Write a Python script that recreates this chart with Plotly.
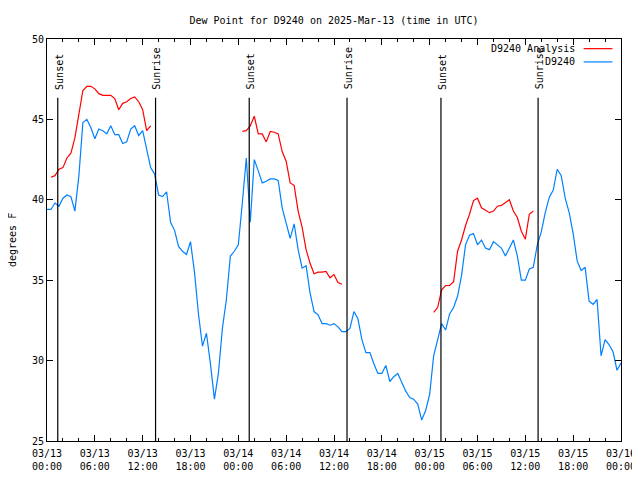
import pandas as pd
import plotly.graph_objects as go

# ---- data ----
start = "2025-03-13 00:00"
n_obs = 145  # 30-minute readings over three days
obs_dewpoint = [
    39.4, 39.4, 39.8, 39.6, 40.1, 40.3, 40.2, 39.3, 41.5, 44.8,
    45.0, 44.5, 43.8, 44.4, 44.3, 44.1, 44.6, 44.05, 44.05, 43.5,
    43.6, 44.4, 44.6, 44.0, 44.3, 43.2, 42.0, 41.6, 40.3, 40.2,
    40.5, 38.6, 38.1, 37.1, 36.8, 36.6, 37.4, 35.5, 32.9, 30.9,
    31.7, 29.8, 27.6, 29.2, 32.0, 33.8, 36.5, 36.8, 37.2, 39.8,
    42.6, 38.6, 42.5, 41.8, 41.05, 41.15, 41.3, 41.3, 41.2, 39.5,
    38.45, 37.6, 38.5, 36.9, 35.75, 35.9, 34.2, 33.05, 32.85, 32.3,
    32.3, 32.2, 32.3, 32.1, 31.8, 31.8, 32.0, 33.05, 32.6, 31.3,
    30.5, 30.5, 29.8, 29.2, 29.2, 29.7, 28.7, 29.0, 29.2, 28.6,
    28.1, 27.7, 27.6, 27.3, 26.3, 26.9, 27.9, 30.3, 31.4, 32.3,
    31.9, 32.9, 33.3, 34.0, 35.3, 37.2, 37.8, 37.9, 37.2, 37.5,
    37.0, 36.9, 37.4, 37.2, 37.0, 36.5, 37.0, 37.5, 36.5, 35.0,
    35.0, 35.7, 35.8, 37.2, 38.0, 39.2, 40.15, 40.6, 41.9, 41.5,
    40.1, 39.2, 37.9, 36.2, 35.6, 35.8, 33.7, 33.5, 33.8, 30.3,
    31.3, 31.0, 30.55, 29.4, 29.85,
]

analysis_starts = ["2025-03-13 00:30", "2025-03-14 00:30", "2025-03-15 00:30"]
analysis_day1 = [41.4, 41.5, 41.9, 42.0, 42.6, 42.9, 43.85, 45.2, 46.8, 47.05,
                 47.06, 46.9, 46.6, 46.5, 46.5, 46.5, 46.3, 45.6, 46.0, 46.1,
                 46.3, 46.4, 46.1, 45.6, 44.3, 44.6]
analysis_day2 = [44.26, 44.3, 44.6, 45.2, 44.1, 44.1, 43.6, 44.25, 44.2, 44.1,
                 43.0, 42.4, 41.05, 40.9, 39.3, 38.3, 36.9, 36.05, 35.4, 35.5,
                 35.5, 35.55, 35.15, 35.35, 34.85, 34.75]
analysis_day3 = [33.0, 33.3, 34.4, 34.67, 34.67, 34.9, 36.8, 37.5, 38.4, 39.1,
                 39.95, 40.1, 39.5, 39.35, 39.2, 39.3, 39.6, 39.65, 39.85, 40.0,
                 39.3, 38.9, 38.05, 37.55, 39.1, 39.3]

sun_labels = ["Sunset", "Sunrise", "Sunset", "Sunrise", "Sunset", "Sunrise"]
sun_times = ["2025-03-13 01:21", "2025-03-13 13:37", "2025-03-14 01:22",
             "2025-03-14 13:38", "2025-03-15 01:25", "2025-03-15 13:36"]

tick_times = pd.date_range("2025-03-13 00:00", "2025-03-16 00:00", freq="6h")
tick_labels = [t.strftime("%m/%d") + "<br>" + t.strftime("%H:%M") for t in tick_times]

# ---- build ----
obs_times = pd.date_range(start, periods=n_obs, freq="30min")

an_x, an_y = [], []
for s, seg in zip(analysis_starts, [analysis_day1, analysis_day2, analysis_day3]):
    ts = pd.date_range(s, periods=len(seg), freq="30min")
    an_x += list(ts) + [ts[-1] + pd.Timedelta(minutes=15)]
    an_y += list(seg) + [None]

FONT = "DejaVu Sans Mono"
RED = "#ff0000"
BLUE = "#0080ff"

# page has an 8px body margin, so the figure is 632x472
W, H = 632, 472

fig = go.Figure()
fig.add_trace(go.Scatter(x=an_x, y=an_y, mode="lines", name="D9240 Analysis",
                         line=dict(color=RED, width=1.2), connectgaps=False))
fig.add_trace(go.Scatter(x=obs_times, y=obs_dewpoint, mode="lines", name="D9240",
                         line=dict(color=BLUE, width=1.2)))

for lab, t in zip(sun_labels, sun_times):
    fig.add_shape(type="line", xref="x", yref="paper", x0=t, x1=t, y0=0, y1=0.854,
                  line=dict(color="black", width=1.2))
    fig.add_annotation(x=t, xref="x", y=0.869, yref="paper", text=lab,
                       textangle=-90, showarrow=False, xanchor="center",
                       yanchor="bottom", xshift=1.5,
                       font=dict(family=FONT, size=10, color="black"))

# legend drawn gnuplot-style: text on the left, line sample on the right
for i, (name, col) in enumerate([("D9240 Analysis", RED), ("D9240", BLUE)]):
    yp = 0.976 - i * 0.033
    fig.add_annotation(x=0.924, xref="paper", y=yp, yref="paper", text=name,
                       showarrow=False, xanchor="right", yanchor="middle",
                       font=dict(family=FONT, size=10, color="black"))
    fig.add_shape(type="line", xref="paper", yref="paper", x0=0.935, x1=0.985,
                  y0=yp, y1=yp, line=dict(color=col, width=1.2))

# y-axis label placed like gnuplot's
fig.add_annotation(x=0, xref="paper", y=0.5, yref="paper", text="degrees F",
                   textangle=-90, showarrow=False, xanchor="center",
                   yanchor="middle", xshift=-35,
                   font=dict(family=FONT, size=10, color="black"))

fig.update_layout(
    width=W, height=H,
    margin=dict(l=39, r=19, t=31, b=39, autoexpand=False),
    paper_bgcolor="white", plot_bgcolor="white",
    showlegend=False,
    font=dict(family=FONT, size=10, color="black"),
    title=dict(text="Dew Point for D9240 on 2025-Mar-13 (time in UTC)",
               x=0.5, xref="paper", xanchor="center",
               y=1 - 12 / H, yref="container", yanchor="middle",
               automargin=False,
               font=dict(family=FONT, size=10, color="black")),
)
fig.update_xaxes(
    range=["2025-03-13 00:00", "2025-03-16 00:00"],
    tickvals=list(tick_times), ticktext=tick_labels,
    ticks="inside", ticklen=6, tickcolor="black", tickwidth=1,
    minor=dict(dtick=2 * 3600 * 1000, ticks="inside", ticklen=3,
               tickcolor="black", tickwidth=1, showgrid=False),
    showline=True, linecolor="black", linewidth=1, mirror="ticks",
    showgrid=False, zeroline=False, automargin=False,
    ticklabelstandoff=3,
    tickfont=dict(family=FONT, size=10, color="black"),
)
fig.update_yaxes(
    range=[25, 50], dtick=5, tick0=25,
    ticks="inside", ticklen=6, tickcolor="black", tickwidth=1,
    showline=True, linecolor="black", linewidth=1, mirror="ticks",
    showgrid=False, zeroline=False, automargin=False,
    tickfont=dict(family=FONT, size=10, color="black"),
)

fig.write_html("out.html")
